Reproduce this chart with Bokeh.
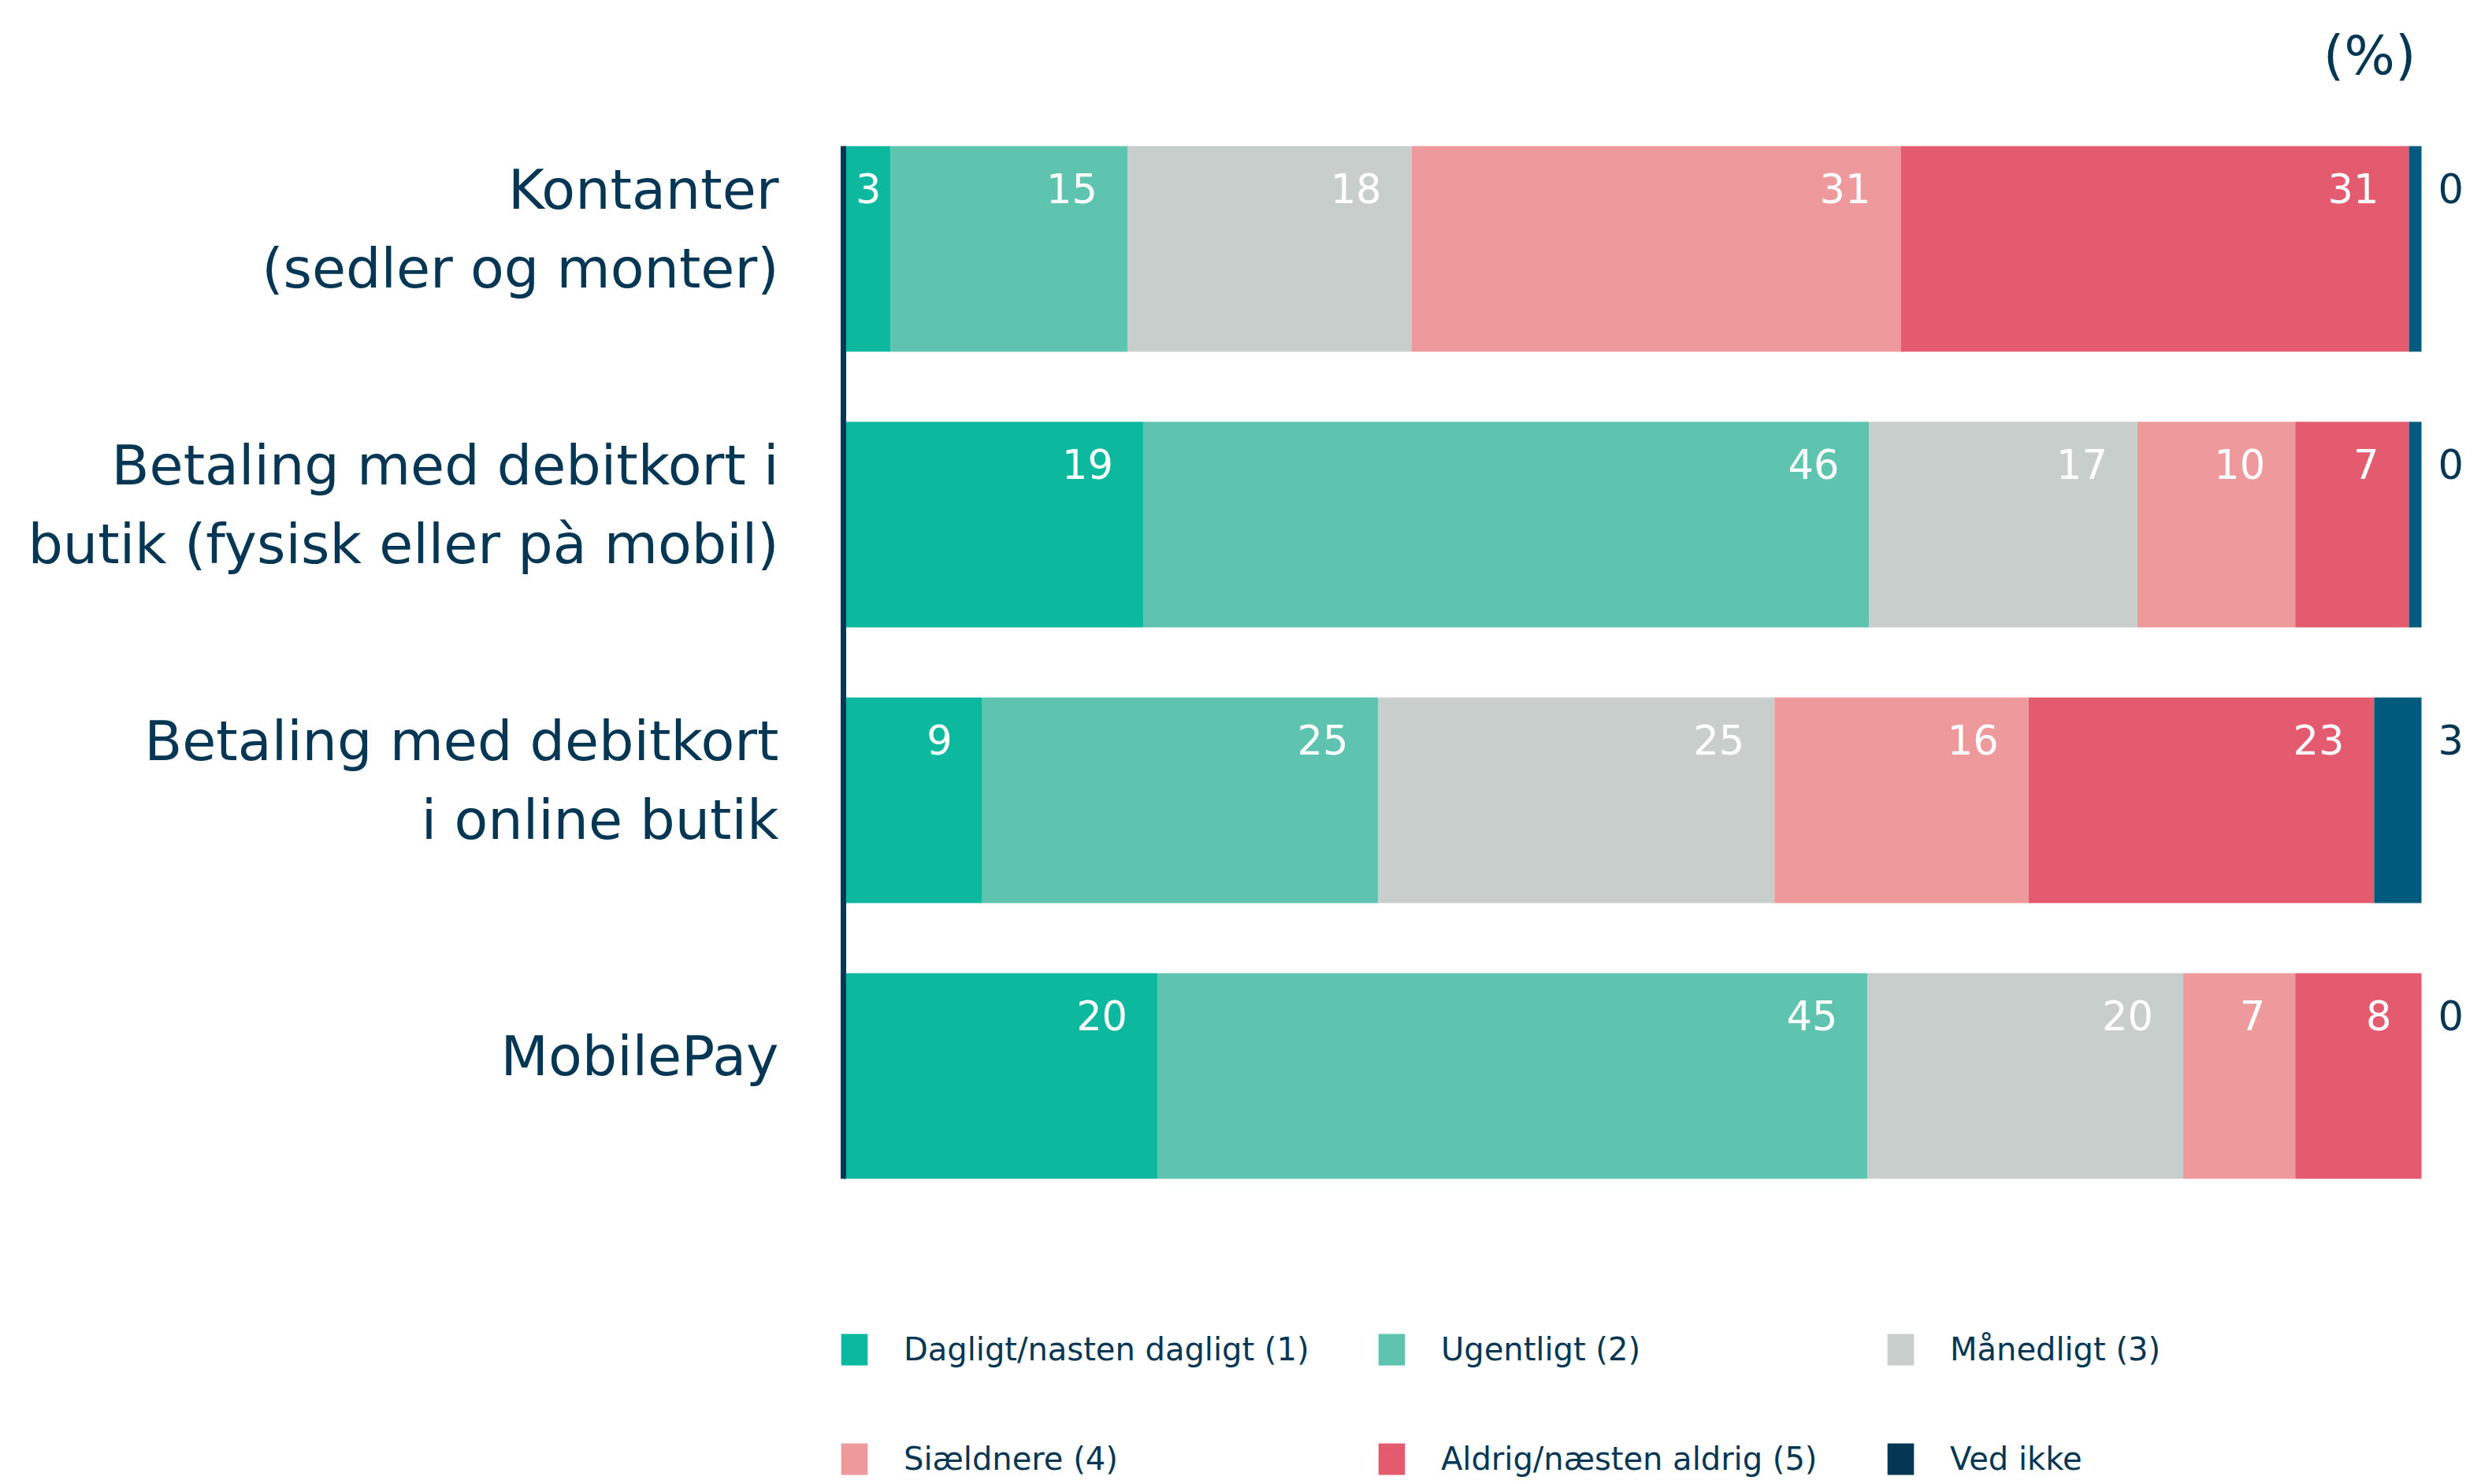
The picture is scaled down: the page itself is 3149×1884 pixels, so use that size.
import numpy as np
from bokeh.plotting import figure
from bokeh.models import ColumnDataSource, Range1d, Legend, LegendItem, Label
from bokeh.core.properties import value
from bokeh.embed import file_html
from bokeh.resources import INLINE

# ---------------- data ----------------
categories = [
    "Kontanter\n(sedler og monter)",
    "Betaling med debitkort i\nbutik (fysisk eller pà mobil)",
    "Betaling med debitkort\ni online butik",
    "MobilePay",
]
series = [
    "Dagligt/nasten dagligt (1)",
    "Ugentligt (2)",
    "Månedligt (3)",
    "Siældnere (4)",
    "Aldrig/næsten aldrig (5)",
    "Ved ikke",
]
# bar segment widths (percent)
dagligt = [3.0, 19.0, 8.8, 19.9]
ugentligt = [15.0, 46.0, 25.1, 45.0]
maanedligt = [18.0, 17.0, 25.1, 20.0]
sjaeldnere = [31.0, 10.0, 16.1, 7.1]
aldrig = [32.2, 7.2, 21.9, 8.0]
ved_ikke = [0.8, 0.8, 3.0, 0.0]
# printed value labels
lbl_dagligt = ["3", "19", "9", "20"]
lbl_ugentligt = ["15", "46", "25", "45"]
lbl_maanedligt = ["18", "17", "25", "20"]
lbl_sjaeldnere = ["31", "10", "16", "7"]
lbl_aldrig = ["31", "7", "23", "8"]
lbl_ved_ikke = ["0", "0", "3", "0"]
unit_label = "(%)"

# ---------------- styles ----------------
colors = ["#0CB99F", "#5EC4AF", "#C8CECB", "#EE9A9C", "#E45A6F", "#005A7E"]
legend_colors = ["#0CB99F", "#5EC4AF", "#C8CECB", "#EE9A9C", "#E45A6F", "#053754"]
navy = "#053754"
FONT = "DejaVu Sans"

W, H = 3149, 1884
LEFT = 1070
PX_PER_UNIT = 20.03
STEP_PX = 350.0
FIRST_CENTER = 315.5

x_start = -LEFT / PX_PER_UNIT
x_end = (W - LEFT) / PX_PER_UNIT
y_end = FIRST_CENTER / STEP_PX
y_start = -(H - FIRST_CENTER) / STEP_PX
bar_h = 261 / STEP_PX

keys = ["s0", "s1", "s2", "s3", "s4", "s5"]
vals = [dagligt, ugentligt, maanedligt, sjaeldnere, aldrig, ved_ikke]
lbls = [lbl_dagligt, lbl_ugentligt, lbl_maanedligt, lbl_sjaeldnere, lbl_aldrig, lbl_ved_ikke]

ypos = [-i for i in range(len(categories))]
data = {"y": ypos, "cat": categories}
for k, v in zip(keys, vals):
    data[k] = v
source = ColumnDataSource(data)

p = figure(
    width=W, height=H, output_backend="svg", toolbar_location=None,
    x_range=Range1d(x_start, x_end), y_range=Range1d(y_start, y_end),
    x_axis_location=None, y_axis_location=None,
    min_border_left=0, min_border_right=0, min_border_top=0, min_border_bottom=0,
)
p.outline_line_color = None
p.xgrid.visible = False
p.ygrid.visible = False
p.background_fill_color = "white"
p.border_fill_color = "white"

renderers = p.hbar_stack(keys, y="y", height=bar_h, color=colors, line_color=None, source=source)

# vertical baseline line at 0 spanning the bars
p.segment(x0=[0], x1=[0], y0=[ypos[0] + bar_h / 2], y1=[ypos[-1] - bar_h / 2],
          line_color=navy, line_width=7)

# value labels inside segments
arr = np.array(vals)
ends = np.cumsum(arr, axis=0)
starts = ends - arr
for j in range(5):
    lx = np.maximum(ends[j] - 1.9, starts[j] + 2.4)
    src = ColumnDataSource(dict(x=lx, y=ypos, t=lbls[j]))
    p.text(x="x", y="y", text="t", source=src, text_color="white",
           text_font=value(FONT), text_font_size="51px", text_align="right",
           text_baseline="alphabetic", y_offset=-77)

# "Ved ikke" labels outside the bar
src_out = ColumnDataSource(dict(x=ends[5], y=ypos, t=lbls[5]))
p.text(x="x", y="y", text="t", source=src_out, text_color=navy,
       text_font=value(FONT), text_font_size="51px", text_align="left",
       text_baseline="alphabetic", x_offset=21, y_offset=-77)

# category labels
src_cat = ColumnDataSource(dict(x=[0] * len(categories), y=ypos, t=categories))
p.text(x="x", y="y", text="t", source=src_cat, text_color=navy,
       text_font=value(FONT), text_font_size="70px", text_align="right",
       text_baseline="middle", x_offset=-82, y_offset=-25, text_line_height=1.22)

# unit label
p.add_layout(Label(x=W - 83, y=H - 70, x_units="screen", y_units="screen",
                   text=unit_label, text_color=navy, text_font=FONT,
                   text_font_size="68px", text_align="right", text_baseline="middle"))

# legend-only renderers (zero-width bars) for legend colours
leg_src = ColumnDataSource(dict(y=[ypos[0]], left=[0], right=[0]))
leg_r = [p.hbar(y="y", left="left", right="right", height=0.01, color=c, line_color=None,
                source=leg_src) for c in legend_colors]

col_x = [1063, 1745, 2391]
for ci in range(3):
    items = [LegendItem(label=series[ci], renderers=[leg_r[ci]]),
             LegendItem(label=series[ci + 3], renderers=[leg_r[ci + 3]])]
    lg = Legend(items=items, location=(col_x[ci], 7), orientation="vertical",
                glyph_width=42, glyph_height=50, label_height=40, label_standoff=42,
                spacing=89, padding=0, margin=0, border_line_color=None,
                background_fill_alpha=0, label_text_font=FONT,
                label_text_font_size="40px", label_text_color=navy)
    p.add_layout(lg)

open("out.html", "w").write(file_html(p, INLINE))
